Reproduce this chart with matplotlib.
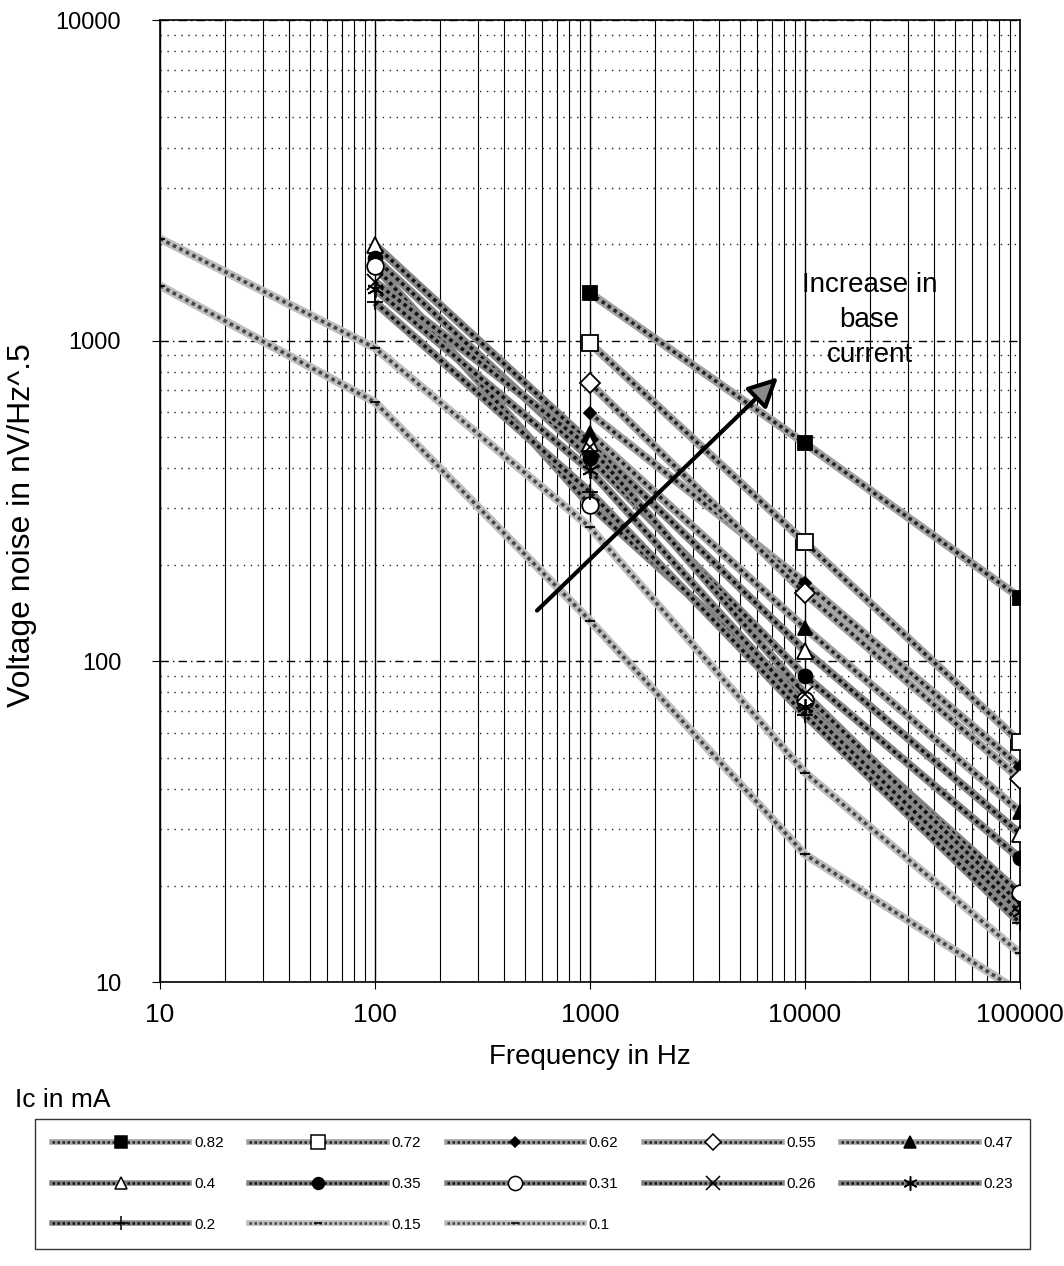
import numpy as np
import matplotlib
matplotlib.use("Agg")
import matplotlib.pyplot as plt
from matplotlib.lines import Line2D
from matplotlib.legend_handler import HandlerTuple

plt.rcParams['font.family'] = ['Liberation Sans', 'DejaVu Sans']

nan = np.nan

# Frequencies (Hz) and voltage noise (nV/Hz^.5) for each collector current
freq = [10, 100, 1000, 10000, 100000]
ic = ["0.82", "0.72", "0.62", "0.55", "0.47", "0.4", "0.35",
      "0.31", "0.26", "0.23", "0.2", "0.15", "0.1"]
v_082 = [nan, nan, 1407, 478, 158]
v_072 = [nan, nan, 982, 235, 56]
v_062 = [nan, nan, 594, 176, 47]
v_055 = [nan, nan, 736, 163, 43]
v_047 = [nan, nan, 514, 127, 34]
v_040 = [nan, 1987, 480, 108, 29]
v_035 = [nan, 1807, 430, 90, 24.3]
v_031 = [nan, 1706, 307, 76, 18.9]
v_026 = [nan, 1524, 466, 79, 17.5]
v_023 = [nan, 1450, 394, 72, 16.5]
v_020 = [nan, 1318, 337, 68, 15.3]
v_015 = [2080, 949, 262, 45, 12.3]
v_010 = [1484, 643, 134, 25, 9.3]

values = [v_082, v_072, v_062, v_055, v_047, v_040, v_035,
          v_031, v_026, v_023, v_020, v_015, v_010]

# marker, size, face colour
markers = [("s", 10, "black"), ("s", 12, "white"), ("D", 6, "black"),
           ("D", 10, "white"), ("^", 10, "black"), ("^", 11, "white"),
           ("o", 10, "black"), ("o", 12, "white"), ("x", 12, "black"),
           ((6, 2, 0), 12, "black"), ("+", 12, "black"), ("_", 7, "black"),
           ("_", 7, "black")]

# arrow showing the trend (data coords)
arrow_start = (555, 142)
arrow_end = (7650, 780)

fig = plt.figure(figsize=(10.64, 12.66), dpi=100)
ax = fig.add_axes([0.1504, 0.2243, 0.8082, 0.7599])
ax.set_xscale("log")
ax.set_yscale("log")
ax.set_xlim(10, 100000)
ax.set_ylim(10, 10000)

ax.grid(which="major", axis="x", color="black", lw=1.0)
ax.grid(which="minor", axis="x", color="black", lw=0.8)
ax.grid(which="major", axis="y", color="black", lw=1.0, ls=(0, (6, 3, 1, 3)))
ax.grid(which="minor", axis="y", color="#222222", lw=1.0, ls=(0, (1, 4)))
ax.set_axisbelow(True)

handles = []
for i, (lab, vals) in enumerate(zip(ic, values)):
    if lab in ("0.15", "0.1"):
        base, dots = "#bdbdbd", "#444444"
    elif lab in ("0.4", "0.35", "0.31", "0.26", "0.23", "0.2"):
        base, dots = "#858585", "#111111"
    else:
        base, dots = "#a0a0a0", "#222222"
    ax.plot(freq, vals, color=base, lw=6, solid_capstyle="butt", zorder=2)
    ax.plot(freq, vals, color=dots, lw=2.6, ls=(0, (1, 1)), zorder=2)
    m, ms, fc = markers[i]
    ax.plot(freq, vals, ls="none", marker=m, ms=ms, mfc=fc, mec="black",
            mew=1.3, zorder=4)
    h = (Line2D([], [], color=base, lw=4),
         Line2D([], [], color=dots, lw=1.8, ls=(0, (1, 1))),
         Line2D([], [], ls="none", marker=m, ms=ms * 0.85, mfc=fc,
                mec="black", mew=1.1))
    handles.append(h)

ax.annotate("", xy=arrow_end, xytext=arrow_start,
            arrowprops=dict(arrowstyle="-|>,head_length=1.8,head_width=0.9",
                            lw=3, fc="#8a8a8a", ec="black"), zorder=5)
ax.text(0.825, 0.688, "Increase in\nbase\ncurrent", transform=ax.transAxes,
        ha="center", va="center", fontsize=20, linespacing=1.45, zorder=6)

ax.set_xticks(freq)
ax.set_xticklabels(["10", "100", "1000", "10000", "100000"])
ax.set_yticks([10, 100, 1000, 10000])
ax.set_yticklabels(["10", "100", "1000", "10000"])
ax.tick_params(axis="x", which="major", length=5, pad=10, labelsize=19)
ax.tick_params(axis="y", which="major", length=6, pad=22, labelsize=17)
ax.tick_params(which="minor", length=0)
ax.xaxis.set_minor_formatter(plt.NullFormatter())
ax.yaxis.set_minor_formatter(plt.NullFormatter())
for s in ax.spines.values():
    s.set_linewidth(1.2)

fig.text(0.021, 0.585, "Voltage noise in nV/Hz^.5", rotation=90,
         ha="center", va="center", fontsize=23)
fig.text(590 / 1064, 1 - 1057 / 1266, "Frequency in Hz", ha="center",
         va="center", fontsize=20)
fig.text(15 / 1064, 1 - 1100 / 1266, "Ic in mA", ha="left", va="center",
         fontsize=19)

# legend fills column-wise; order entries so rows read 0.82 .. 0.1
order = [0, 5, 10, 1, 6, 11, 2, 7, 12, 3, 8, 4, 9]
leg = fig.legend([handles[k] for k in order], [ic[k] for k in order],
                 handler_map={tuple: HandlerTuple(ndivide=1)},
                 ncol=5, loc="center",
                 bbox_to_anchor=(0.033, 0.0166, 0.935, 0.0964),
                 bbox_transform=fig.transFigure, mode="expand",
                 fontsize=11, handlelength=9, handletextpad=0.3,
                 labelspacing=1.75, columnspacing=1.0, borderpad=1.1,
                 fancybox=False, edgecolor="black", borderaxespad=0)
leg.get_frame().set_linewidth(1.0)

fig.savefig("out.png", dpi=100)
